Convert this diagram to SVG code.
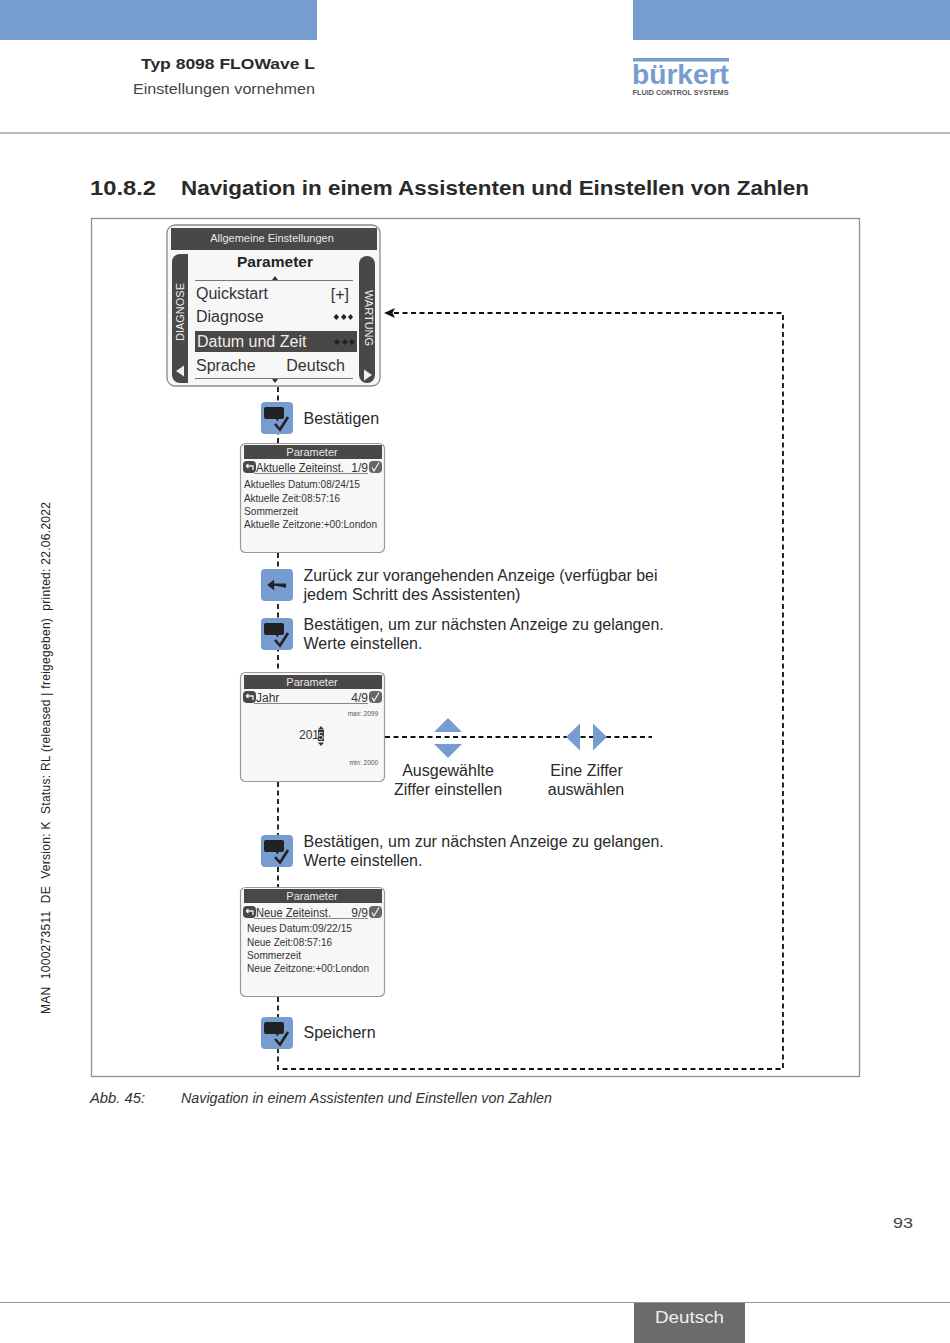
<svg xmlns="http://www.w3.org/2000/svg" xmlns:xlink="http://www.w3.org/1999/xlink" width="950" height="1343" viewBox="0 0 950 1343">
<style>
text{font-family:"Liberation Sans",Arial,sans-serif;fill:#2a2a2a}
.lbl{font-size:16px}
.mid{text-anchor:middle}
.end{text-anchor:end}
.menu{font-size:16px;fill:#333}
.bar{fill:#4a4747}
.scr{fill:#f7f7f7;stroke:#9a9a9a;stroke-width:1.2}
.sm{font-size:12px;fill:#333}
.ln{font-size:11.8px;fill:#333}
.tiny{font-size:6.5px;fill:#555}
.dash{fill:none;stroke:#111;stroke-width:1.8;stroke-dasharray:5 3.5}
.blue{fill:#779ccf}
.rule{stroke:#777;stroke-width:1;fill:none}
</style>
<defs>
<g id="btnOk">
<rect x="0" y="0" width="32" height="32" rx="4" fill="#779ccf"/>
<path d="M5 5h16a2 2 0 0 1 2 2v8a2 2 0 0 1-2 2h-3l-2 2.500-1-2.500h-10a2 2 0 0 1-2-2v-8a2 2 0 0 1 2-2z" fill="#222"/>
<path d="M14 22l5 5.500 8-12.500" fill="none" stroke="#222" stroke-width="2.600"/>
</g>
<g id="hdrL">
<rect x="0" y="0" width="13" height="12" rx="4" fill="#4a4747"/>
<path d="M3 5h7v4M3 5l2.500-2M3 5l2.500 2" fill="none" stroke="#eee" stroke-width="1.300"/>
</g>
<g id="hdrR">
<rect x="0" y="0" width="13" height="12" rx="4" fill="#666"/>
<path d="M3 6.500l2 3.500 5-8.500" fill="none" stroke="#f2f2f2" stroke-width="1.200"/>
</g>
</defs>

<g id="page-header">
<rect x="0" y="0" width="317" height="40" fill="#779ccf"/>
<rect x="633" y="0" width="317" height="40" fill="#779ccf"/>
<text x="315" y="69" class="end" font-size="15" font-weight="700" textLength="174" lengthAdjust="spacingAndGlyphs">Typ 8098 FLOWave L</text>
<text x="315" y="94" class="end" font-size="15" textLength="182" lengthAdjust="spacingAndGlyphs" style="fill:#444">Einstellungen vornehmen</text>
<path d="M0 133H950" class="rule"/>
</g>
<g id="logo">
<rect x="633" y="58" width="96" height="3.500" fill="#779ccf"/>
<text x="632" y="84" font-size="28" font-weight="700" textLength="97" lengthAdjust="spacingAndGlyphs" style="fill:#779ccf">bürkert</text>
<text x="632.500" y="95" font-size="6.300" font-weight="700" textLength="96" lengthAdjust="spacingAndGlyphs" style="fill:#555">FLUID CONTROL SYSTEMS</text>
</g>
<g id="title">
<text x="90" y="194.500" font-size="20" font-weight="700" textLength="66" lengthAdjust="spacingAndGlyphs">10.8.2</text>
<text x="181" y="194.500" font-size="20" font-weight="700" textLength="628" lengthAdjust="spacingAndGlyphs">Navigation in einem Assistenten und Einstellen von Zahlen</text>
</g>
<rect id="frame" x="91.500" y="218.500" width="768" height="858" fill="#fff" stroke="#8f8f8f" stroke-width="1.300"/>

<g id="connectors">
<path class="dash" d="M278 387V443"/>
<path class="dash" d="M278 553V672"/>
<path class="dash" d="M278 782V887"/>
<path class="dash" d="M278 997V1069H783V313H392"/>
<path d="M384 313l11-5-2.500 5 2.500 5z" fill="#111"/>
<path class="dash" d="M385 737H652"/>
</g>

<g id="screen-main">
<rect x="167" y="225" width="213" height="161" rx="8" fill="#f7f7f7" stroke="#8a8a8a" stroke-width="1.300"/>
<rect x="171" y="228" width="206" height="22" class="bar"/>
<text x="272" y="242" class="mid" font-size="11" style="fill:#e8e8e8">Allgemeine Einstellungen</text>
<text x="275" y="267" class="mid" font-size="15" font-weight="700" textLength="76" lengthAdjust="spacingAndGlyphs" style="fill:#222">Parameter</text>
<path d="M195 280.500H353" stroke="#777" fill="none"/>
<path d="M275 276l3 4h-6z" fill="#333"/>
<path d="M172 262a8 8 0 0 1 8-8h8v129h-8a8 8 0 0 1-8-8z" class="bar"/>
<path d="M375 264a8 8 0 0 0-8-8h0a8 8 0 0 0-8 8v111a8 8 0 0 0 8 8h0a8 8 0 0 0 8-8z" class="bar"/>
<text transform="translate(184,312) rotate(-90)" class="mid" font-size="11" style="fill:#eee">DIAGNOSE</text>
<text transform="translate(364.500,318) rotate(90)" class="mid" font-size="11" style="fill:#eee">WARTUNG</text>
<path d="M176 371l8-5.500v11z" fill="#eee"/>
<path d="M372 375l-8-5.500v11z" fill="#eee"/>
<text x="196" y="299" class="menu">Quickstart</text>
<text x="349" y="300" class="menu end">[+]</text>
<text x="196" y="322" class="menu">Diagnose</text>
<g fill="#222"><path d="M333.500 317l2.800-3 2.800 3-2.800 3z"/><path d="M341 317l2.800-3 2.800 3-2.800 3z"/><path d="M348 317l2.500-3 2.500 3-2.500 3z"/></g>
<rect x="195" y="331" width="162" height="21" class="bar"/>
<text x="197" y="347" class="menu" style="fill:#eee">Datum und Zeit</text>
<g fill="#222"><path d="M334 342l3-3 3 3-3 3z"/><path d="M342 342l3-3 3 3-3 3z"/><path d="M349 342l3-3 3 3-3 3z"/></g>
<text x="196" y="371" class="menu">Sprache</text>
<text x="345" y="371" class="menu end">Deutsch</text>
<path d="M195 378.500H353" stroke="#777" fill="none"/>
<path d="M275 383l3-4h-6z" fill="#333"/>
</g>

<g id="btn-bestaetigen-1"><use xlink:href="#btnOk" x="261" y="402"/><text x="303.500" y="424" class="lbl">Bestätigen</text></g>

<g id="screen-aktuell">
<rect x="240.500" y="443.500" width="144" height="109" rx="5" class="scr"/>
<rect x="244" y="445" width="138" height="14" class="bar"/>
<text x="312" y="455.500" class="mid" font-size="11" style="fill:#e8e8e8">Parameter</text>
<use xlink:href="#hdrL" x="243" y="461"/><use xlink:href="#hdrR" x="369" y="461"/>
<path d="M254 473.500H368" stroke="#888" fill="none"/>
<text x="256" y="472" class="sm" textLength="88" lengthAdjust="spacingAndGlyphs">Aktuelle Zeiteinst.</text><text x="368" y="472" class="sm end">1/9</text>
<text x="244" y="488" class="ln" textLength="116" lengthAdjust="spacingAndGlyphs">Aktuelles Datum:08/24/15</text>
<text x="244" y="502" class="ln" textLength="96" lengthAdjust="spacingAndGlyphs">Aktuelle Zeit:08:57:16</text>
<text x="244" y="515" class="ln" textLength="54" lengthAdjust="spacingAndGlyphs">Sommerzeit</text>
<text x="244" y="528" class="ln" textLength="133" lengthAdjust="spacingAndGlyphs">Aktuelle Zeitzone:+00:London</text>
</g>

<g id="btn-zurueck">
<rect x="261" y="569" width="32" height="32" rx="4" class="blue"/>
<path d="M269 584.500h16v3M269 585l4-3v6z" fill="#222" stroke="#222" stroke-width="2.200"/>
<text x="303.500" y="581" class="lbl" textLength="354" lengthAdjust="spacingAndGlyphs">Zurück zur vorangehenden Anzeige (verfügbar bei</text>
<text x="303.500" y="600" class="lbl" textLength="217" lengthAdjust="spacingAndGlyphs">jedem Schritt des Assistenten)</text>
</g>

<g id="btn-bestaetigen-2"><use xlink:href="#btnOk" x="261" y="618"/>
<text x="303.500" y="630" class="lbl">Bestätigen, um zur nächsten Anzeige zu gelangen.</text>
<text x="303.500" y="649" class="lbl">Werte einstellen.</text></g>

<g id="screen-jahr">
<rect x="240.500" y="672.500" width="144" height="109" rx="5" class="scr"/>
<rect x="244" y="675" width="138" height="14" class="bar"/>
<text x="312" y="685.500" class="mid" font-size="11" style="fill:#e8e8e8">Parameter</text>
<use xlink:href="#hdrL" x="243" y="691"/><use xlink:href="#hdrR" x="369" y="691"/>
<path d="M254 703.500H368" stroke="#888" fill="none"/>
<text x="256" y="702" class="sm">Jahr</text><text x="368" y="702" class="sm end">4/9</text>
<text x="378" y="716" class="tiny end">max: 2099</text>
<text x="299" y="739" font-size="12" style="fill:#333">201</text>
<rect x="318" y="730" width="6" height="11" fill="#333"/>
<text x="318" y="739.500" font-size="10.500" style="fill:#ddd">5</text>
<path d="M321 726l3 3.500h-6zM321 746l3-3.500h-6z" fill="#333"/>
<text x="378" y="765" class="tiny end">min: 2000</text>
</g>

<g id="arrows-updown">
<path d="M434 732l14-14 14 14z" class="blue"/>
<path d="M434 744h28l-14 14z" class="blue"/>
<text x="448" y="776" class="lbl mid">Ausgewählte</text>
<text x="448" y="795" class="lbl mid">Ziffer einstellen</text>
</g>
<g id="arrows-leftright">
<path d="M580 723.500v27l-14-13.500z" class="blue"/>
<path d="M593 723.500v27l14-13.500z" class="blue"/>
<text x="586.500" y="776" class="lbl mid">Eine Ziffer</text>
<text x="586" y="795" class="lbl mid">auswählen</text>
</g>

<g id="btn-bestaetigen-3"><use xlink:href="#btnOk" x="261" y="835"/>
<text x="303.500" y="847" class="lbl">Bestätigen, um zur nächsten Anzeige zu gelangen.</text>
<text x="303.500" y="866" class="lbl">Werte einstellen.</text></g>

<g id="screen-neu">
<rect x="240.500" y="887.500" width="144" height="109" rx="5" class="scr"/>
<rect x="244" y="889" width="138" height="14" class="bar"/>
<text x="312" y="900" class="mid" font-size="11" style="fill:#e8e8e8">Parameter</text>
<use xlink:href="#hdrL" x="243" y="906"/><use xlink:href="#hdrR" x="369" y="906"/>
<path d="M254 918.500H368" stroke="#888" fill="none"/>
<text x="256" y="917" class="sm" textLength="75" lengthAdjust="spacingAndGlyphs">Neue Zeiteinst.</text><text x="368" y="917" class="sm end">9/9</text>
<text x="247" y="932" class="ln" textLength="105" lengthAdjust="spacingAndGlyphs">Neues Datum:09/22/15</text>
<text x="247" y="946" class="ln" textLength="85" lengthAdjust="spacingAndGlyphs">Neue Zeit:08:57:16</text>
<text x="247" y="959" class="ln" textLength="54" lengthAdjust="spacingAndGlyphs">Sommerzeit</text>
<text x="247" y="972" class="ln" textLength="122" lengthAdjust="spacingAndGlyphs">Neue Zeitzone:+00:London</text>
</g>

<g id="btn-speichern"><use xlink:href="#btnOk" x="261" y="1017"/><text x="303.500" y="1038" class="lbl">Speichern</text></g>

<g id="caption">
<text x="90" y="1103" font-size="14.500" font-style="italic" textLength="55" lengthAdjust="spacingAndGlyphs" style="fill:#333">Abb. 45:</text>
<text x="181" y="1103" font-size="14.500" font-style="italic" textLength="371" lengthAdjust="spacingAndGlyphs" style="fill:#333">Navigation in einem Assistenten und Einstellen von Zahlen</text>
</g>
<text x="50" y="1014" transform="rotate(-90 50 1014)" font-size="12" xml:space="preserve" textLength="512" style="fill:#222">MAN  1000273511  DE  Version: K  Status: RL (released | freigegeben)  printed: 22.06.2022</text>
<text x="913" y="1228" class="end" font-size="15" textLength="20" lengthAdjust="spacingAndGlyphs" style="fill:#444">93</text>
<g id="footer">
<path d="M0 1302.500H950" stroke="#999" fill="none"/>
<rect x="634" y="1303" width="111" height="40" fill="#6b6b6b"/>
<text x="689.500" y="1323" class="mid" font-size="16" textLength="69" lengthAdjust="spacingAndGlyphs" style="fill:#f0f0f0">Deutsch</text>
</g>
</svg>
